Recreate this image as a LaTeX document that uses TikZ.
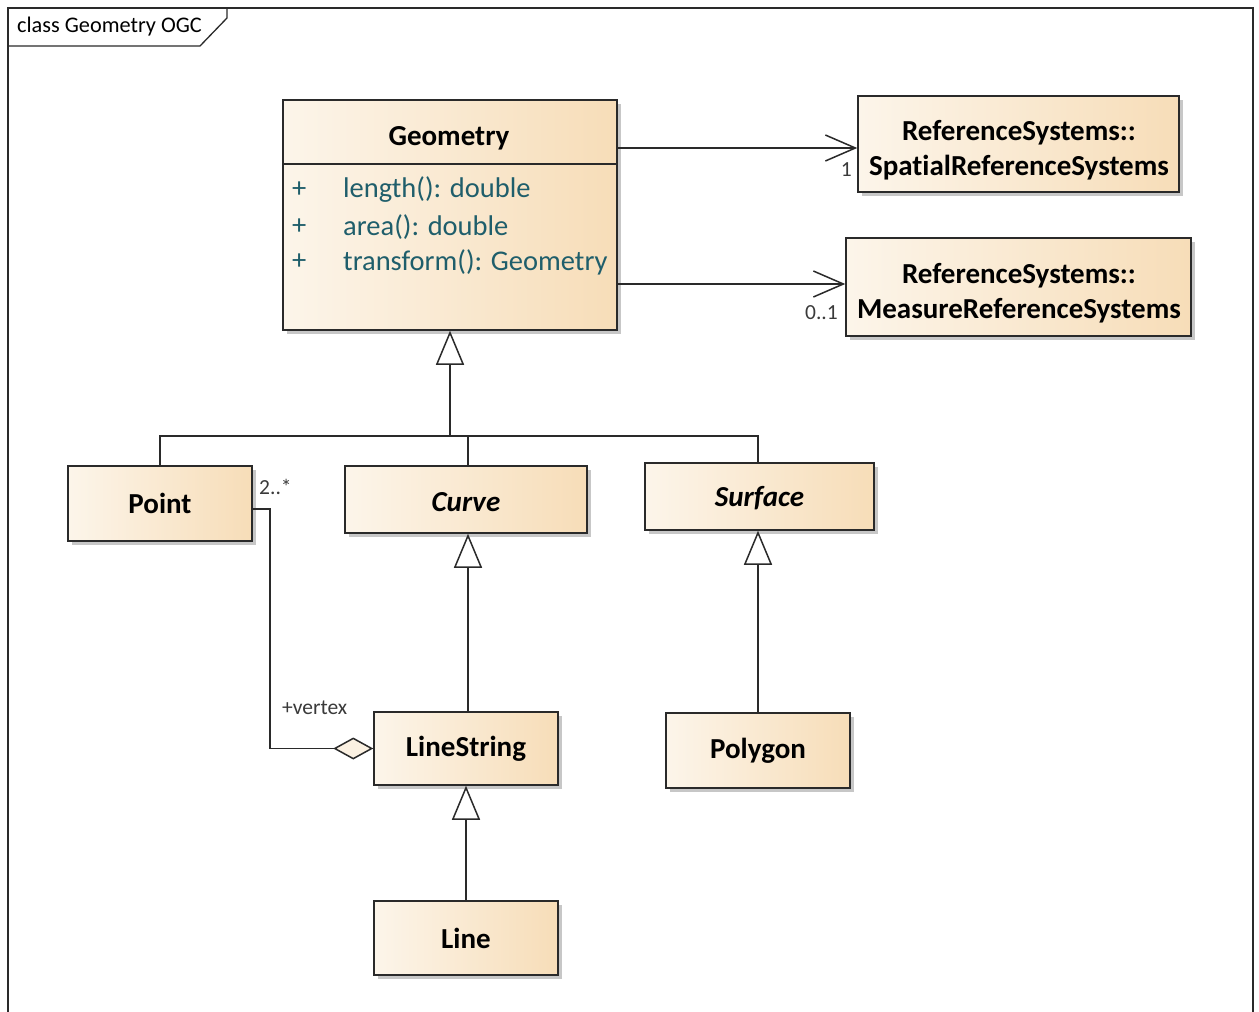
\documentclass[tikz,border=0pt]{standalone}
\usepackage{fontspec}
\setmainfont{Carlito}[Ligatures=NoCommon]
\usetikzlibrary{arrows.meta,shadows,calc}

\definecolor{boxleft}{HTML}{FCF5EA}
\definecolor{boxright}{HTML}{F7DDB8}
\definecolor{edge}{HTML}{2A2A2A}
\definecolor{optext}{HTML}{1F5E6B}
\definecolor{multtext}{HTML}{3A3A3A}
\definecolor{diamondfill}{HTML}{FBF1E2}

\tikzset{
  umlclass/.style={draw=edge, line width=1.5pt, inner sep=0pt,
    left color=boxleft, right color=boxright, shading angle=90,
    drop shadow={shadow xshift=3.5pt, shadow yshift=-3.5pt, fill=black, opacity=0.22},
    font=\fontsize{29}{35}\selectfont\bfseries, align=center, text=black},
  abstractname/.style={font=\fontsize{29}{35}\selectfont\bfseries\itshape},
  link/.style={draw=edge, line width=1.5pt},
  navigable/.style={link, -{Straight Barb[length=30pt, width=26pt, line width=1.5pt]}},
  generalize/.style={link, -{Triangle[open, length=34pt, width=28pt, fill=white, line width=1.5pt]}},
  aggregate/.style={link, -{Diamond[open, length=40pt, width=22pt, fill=diamondfill, line width=1.5pt]}},
  optline/.style={anchor=west, inner sep=0pt, text=optext, font=\fontsize{28.5}{33}\selectfont},
  mult/.style={inner sep=0pt, text=multtext, font=\fontsize{21.5}{25}\selectfont},
}

\begin{document}
\begin{tikzpicture}[x=1pt, y=-1pt]
  \useasboundingbox (0,0) rectangle (1259,1012);
  \fill[white] (0,0) rectangle (1259,1012);

  % diagram frame with its name tab
  \draw[draw=edge, line width=1.3pt] (8,1012) -- (8,8) -- (1253,8) -- (1253,1012);
  \draw[draw=edge, line width=1.3pt] (8,46) -- (200,46) -- (227,18) -- (227,8);
  \node[anchor=west, inner sep=0pt, font=\fontsize{22.3}{26}\selectfont] (frametitle) at (17,27) {class Geometry OGC};

  % Geometry class with its operations compartment
  \node[umlclass, minimum width=334pt, minimum height=230pt] (geometry) at (450,215) {};
  \draw[draw=edge, line width=1.5pt] (geometry.west |- 0,164) -- (geometry.east |- 0,164);
  \node[inner sep=0pt, font=\fontsize{29}{35}\selectfont\bfseries] (geomname) at (449,138) {Geometry};
  \node[optline] (op1v) at (292,190) {+};
  \node[optline] (op1) at (343,190) {length(): double};
  \node[optline] (op2v) at (292,227) {+};
  \node[optline] (op2) at (343,227) {area(): double};
  \node[optline] (op3v) at (292,262) {+};
  \node[optline] (op3) at (343,262) {transform(): Geometry};

  % referenced classes
  \node[umlclass, minimum width=321pt, minimum height=96pt] (spatial) at (1018.5,144) {};
  \node[inner sep=0pt, font=\fontsize{29}{35}\selectfont\bfseries, align=center] (spatialname)
    at (1019,150) {ReferenceSystems::\\SpatialReferenceSystems};
  \node[umlclass, minimum width=345pt, minimum height=98pt] (measure) at (1018.5,287) {};
  \node[inner sep=0pt, font=\fontsize{29}{35}\selectfont\bfseries, align=center] (measurename)
    at (1019,293) {ReferenceSystems::\\MeasureReferenceSystems};

  % subclasses
  \node[umlclass, minimum width=184pt, minimum height=75pt] (point) at (160,503.5) {Point};
  \node[umlclass, abstractname, minimum width=242pt, minimum height=67pt] (curve) at (466,499.5) {};
  \node[inner sep=0pt, abstractname] (curvename) at (466,502) {Curve};
  \node[umlclass, abstractname, minimum width=229pt, minimum height=67pt] (surface) at (759.5,496.5) {};
  \node[inner sep=0pt, abstractname] (surfacename) at (759.5,498.5) {Surface};
  \node[umlclass, minimum width=184pt, minimum height=73pt] (linestring) at (466,748.5) {LineString};
  \node[umlclass, minimum width=184pt, minimum height=75pt] (polygon) at (758,750.5) {Polygon};
  \node[umlclass, minimum width=184pt, minimum height=74pt] (line) at (466,938) {Line};

  % associations to the reference systems
  \draw[navigable] (geometry.east |- 0,148) -- (spatial.west |- 0,148);
  \node[mult, anchor=east] (multspatial) at (852,170) {1};
  \draw[navigable] (geometry.east |- 0,284) -- (measure.west |- 0,284);
  \node[mult, anchor=east] (multmeasure) at (838,313) {0..1};

  % generalization tree below Geometry
  \coordinate (junction) at (geometry.south |- 0,436);
  \draw[generalize] (junction) -- (geometry.south);
  \draw[link] (point.north) -- (point.north |- junction) -- ([xshift=-1.5pt]surface.north |- junction) -- ([xshift=-1.5pt]surface.north);
  \draw[link] ([xshift=2pt]curve.north) -- ([xshift=2pt]curve.north |- junction);

  \draw[generalize] ([xshift=2pt]linestring.north) -- ([xshift=2pt]curve.south);
  \draw[generalize] (polygon.north) -- (polygon.north |- surface.south);
  \draw[generalize] (line.north) -- (linestring.south);

  % vertex aggregation
  \coordinate (bend) at (270,509);
  \draw[aggregate] ([yshift=-5.5pt]point.east) -- (bend) |- (linestring.west);
  \node[mult, anchor=west] (multvertex) at (259,487) {2..*};
  \node[mult, anchor=west] (rolevertex) at (282,708) {+vertex};
\end{tikzpicture}
\end{document}
